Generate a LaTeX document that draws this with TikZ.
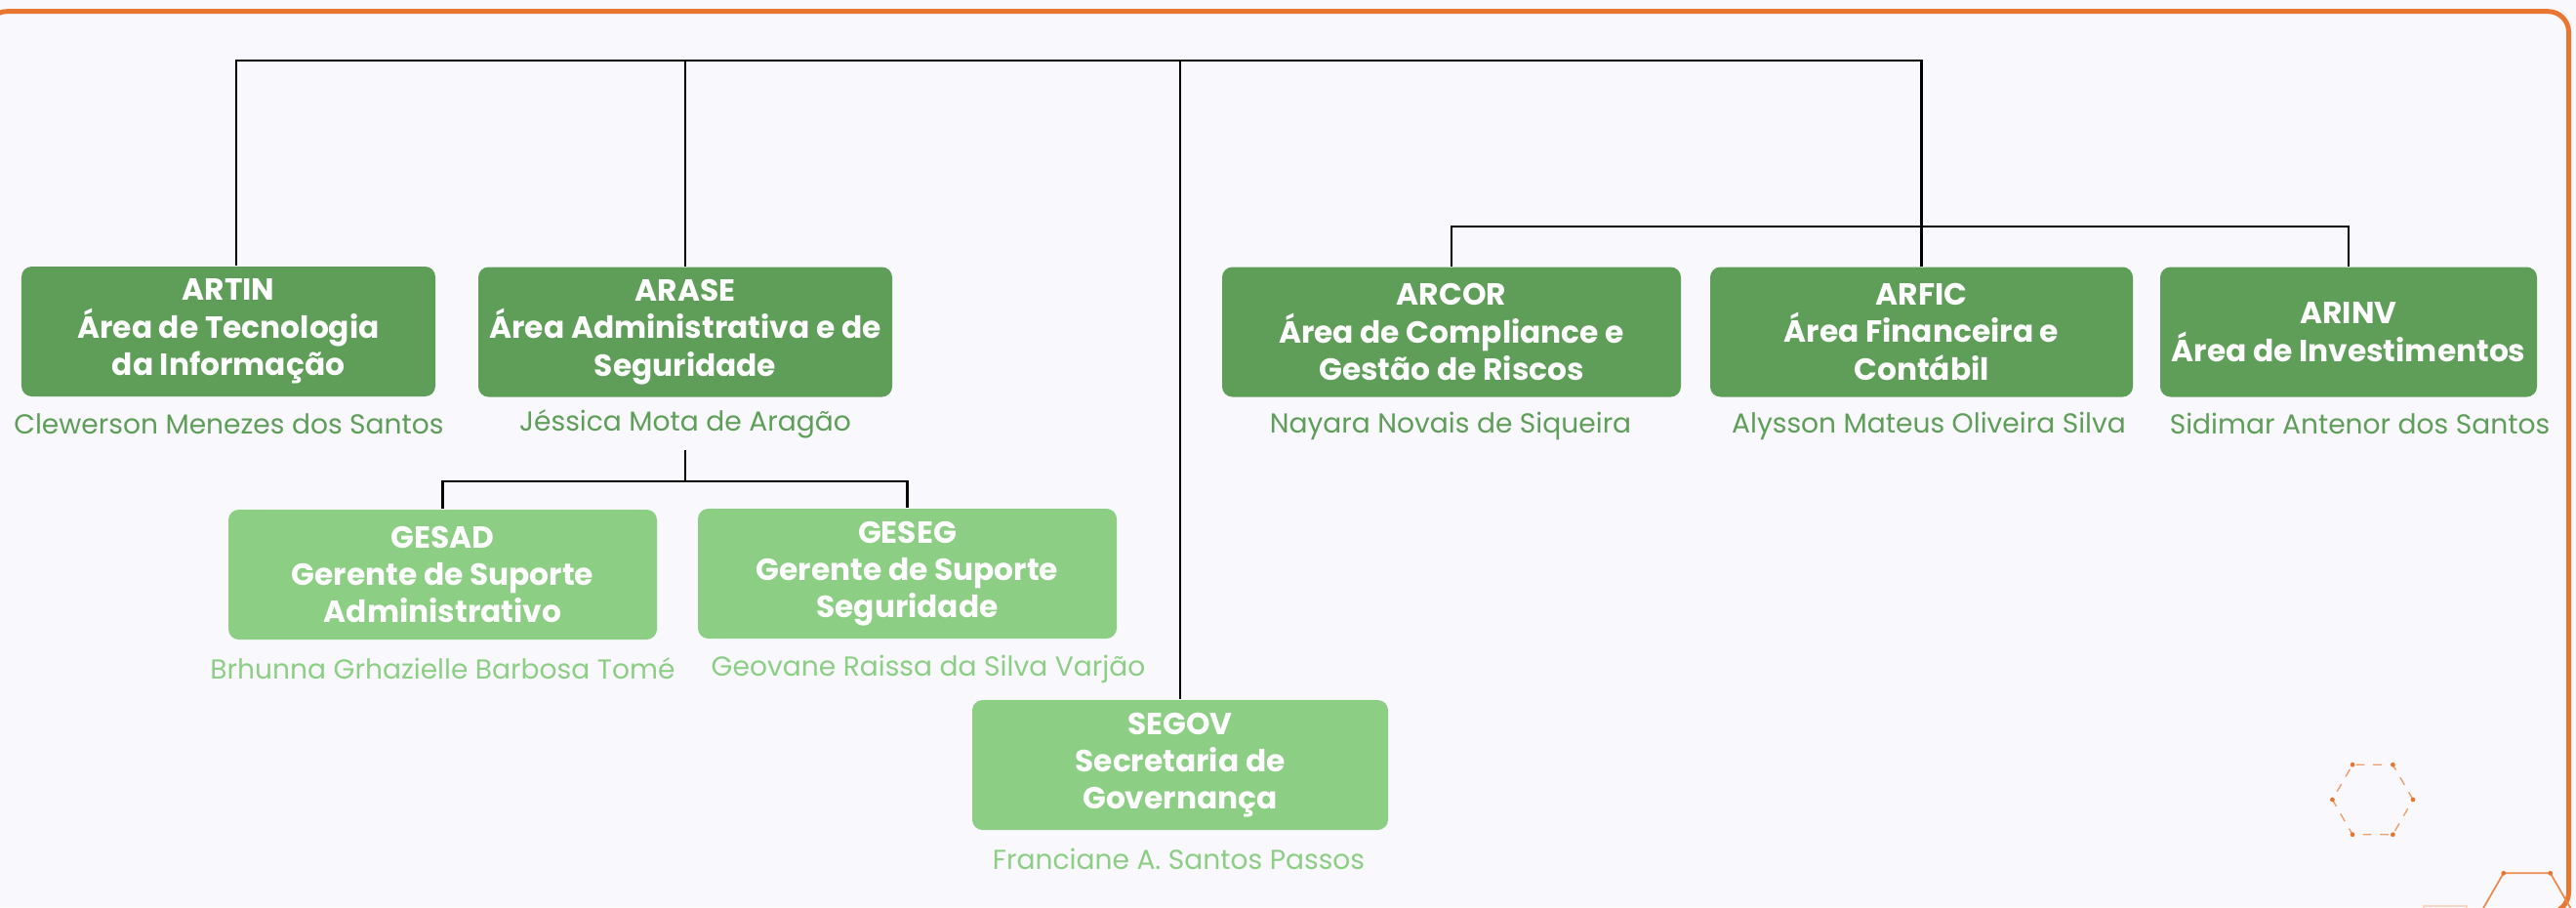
\documentclass[tikz,border=0pt]{standalone}
\usepackage{fontspec}
\setmainfont{Poppins}
\usetikzlibrary{calc}

\definecolor{darkgr}{RGB}{94,158,88}
\definecolor{lightgr}{RGB}{141,206,133}
\definecolor{orng}{RGB}{232,117,48}
\definecolor{paper}{RGB}{248,248,253}

\begin{document}
\begin{tikzpicture}[
  unit/.style={rounded corners=3pt, text=white, align=center, inner sep=0pt,
    font=\fontsize{8.9}{10.9}\selectfont\bfseries, minimum height=1.33cm},
  area/.style={unit, fill=darkgr},
  gerente/.style={unit, fill=lightgr},
  chief/.style={font=\fontsize{8}{9}\selectfont, text=darkgr},
  staff/.style={font=\fontsize{8}{9}\selectfont, text=lightgr},
  link/.style={black, line width=0.6pt}]
\useasboundingbox (0,0) rectangle (26.39,-9.29);
% frame and decoration
\begin{scope}
\clip (0,0) rectangle (26.39,-9.29);
\fill[paper] (0,0) rectangle (26.39,-9.29);
\draw[orng, line width=1.4pt, rounded corners=6pt] (-0.14,-0.117) rectangle (26.315,-9.35);
\coordinate (hexa) at (24.307,-8.19);
\coordinate (hexb) at (25.887,-9.359);
\draw[orng!70, line width=0.4pt, dash pattern=on 2.5pt off 2.5pt]
  (hexa) +(0:0.413) -- +(60:0.413) -- +(120:0.413) -- +(180:0.413) -- +(240:0.413) -- +(300:0.413) -- cycle;
\draw[orng!85, line width=0.5pt]
  (hexb) +(0:0.48) -- +(60:0.48) -- +(120:0.48) -- +(180:0.48) -- +(240:0.48) -- +(300:0.48) -- cycle;
\foreach \a in {0,60,...,300} {
 \fill[orng] ($(hexa)+(\a:0.413)$) circle (0.024);
 \fill[orng] ($(hexb)+(\a:0.48)$) circle (0.024);
}
\draw[orng!30, line width=0.5pt] (24.833,-9.277) rectangle (25.267,-9.6);
\end{scope}

% boxes
\node[area, minimum width=4.24cm] (artin) at (2.34,-3.395) {ARTIN\\Área de Tecnologia\\da Informação};
\node[area, minimum width=4.24cm] (arase) at (7.02,-3.40) {ARASE\\Área Administrativa e de\\Seguridade};
\node[area, minimum width=4.70cm] (arcor) at (14.87,-3.40) {ARCOR\\Área de Compliance e\\Gestão de Riscos};
\node[area, minimum width=4.33cm] (arfic) at (19.685,-3.40) {ARFIC\\Área Financeira e\\Contábil};
\node[area, minimum width=3.86cm] (arinv) at (24.06,-3.40) {ARINV\\Área de Investimentos};
\node[gerente, minimum width=4.39cm] (gesad) at (4.535,-5.885) {GESAD\\Gerente de Suporte\\Administrativo};
\node[gerente, minimum width=4.29cm] (geseg) at (9.295,-5.875) {GESEG\\Gerente de Suporte\\Seguridade};
\node[gerente, minimum width=4.26cm] (segov) at (12.09,-7.835) {SEGOV\\Secretaria de\\Governança};

% names
\node[chief] (artinn) at (2.345,-4.34) {Clewerson Menezes dos Santos};
\node[chief] (arasen) at (7.02,-4.34) {Jéssica Mota de Aragão};
\node[chief] (arcorn) at (14.86,-4.36) {Nayara Novais de Siqueira};
\node[chief] (arficn) at (19.76,-4.36) {Alysson Mateus Oliveira Silva};
\node[chief] (arinvn) at (24.175,-4.34) {Sidimar Antenor dos Santos};
\node[staff] (gesadn) at (4.535,-6.85) {Brhunna Grhazielle Barbosa Tomé};
\node[staff] (gesegn) at (9.51,-6.85) {Geovane Raissa da Silva Varjão};
\node[staff] (segovn) at (12.075,-8.80) {Franciane A. Santos Passos};

% links
\coordinate (hub) at (12.09,-0.62);
\coordinate (rhub) at (19.685,-2.32);
\coordinate (shub) at (7.02,-4.93);
\draw[link] ($(artin.north)+(0.08,0)$) |- (hub) -| (arfic.north);
\draw[link] (arase.north) -- (arase.north |- hub);
\draw[link] (hub) -- (segov.north);
\draw[link] (arcor.north) |- (rhub) -| (arinv.north);
\draw[link] (arasen.south) -- (shub);
\draw[link] (gesad.north) |- (shub) -| (geseg.north);
\end{tikzpicture}
\end{document}
